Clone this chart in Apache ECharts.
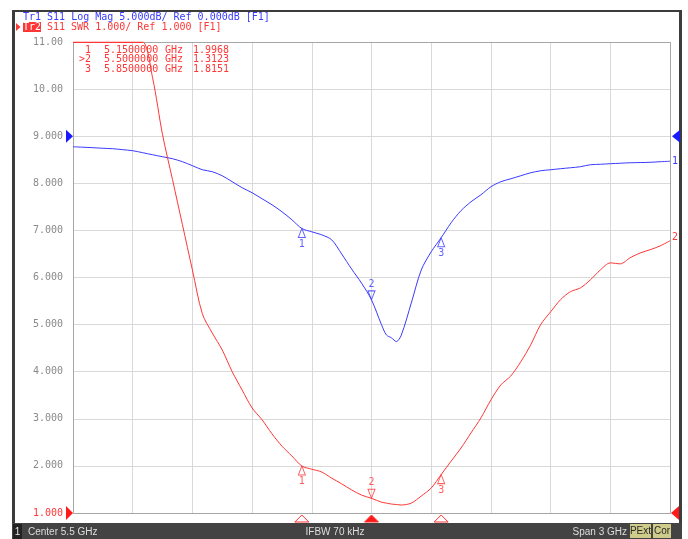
<!DOCTYPE html>
<html><head><meta charset="utf-8">
<script src="https://cdn.jsdelivr.net/npm/echarts@6/dist/echarts.min.js"></script>
<style>html,body{margin:0;padding:0;background:#fff}#c{width:688px;height:539px}</style>
</head><body><div id="c"></div>
<script>
// ---------------- data ----------------
const freqGHz = [4.00,4.05,4.10,4.15,4.20,4.25,4.30,4.35,4.40,4.45,4.50,4.55,4.60,4.65,4.70,4.75,4.80,4.85,4.90,4.95,
  5.00,5.05,5.10,5.15,5.20,5.25,5.30,5.35,5.40,5.45,5.50,5.55,5.575,5.60,5.625,5.65,5.70,5.75,5.80,5.85,5.90,5.95,
  6.00,6.05,6.10,6.15,6.20,6.25,6.30,6.35,6.40,6.45,6.50,6.55,6.60,6.65,6.70,6.75,6.80,6.85,6.90,6.95,7.00];
// Tr1: S11 Log Mag (dB)
const s11LogMagDb = [-1.12,-1.17,-1.22,-1.28,-1.33,-1.43,-1.54,-1.75,-1.97,-2.18,-2.39,-2.71,-3.13,-3.56,-3.77,-4.2,-4.83,-5.47,-6.0,-6.64,
  -7.28,-8.02,-8.87,-9.8,-10.15,-10.47,-11.0,-12.5,-14.1,-15.6,-17.37,-20.0,-21.1,-21.4,-21.8,-21.1,-17.7,-14.2,-12.27,-10.78,-9.19,-7.9,
  -6.96,-6.22,-5.37,-4.83,-4.52,-4.2,-3.88,-3.67,-3.56,-3.45,-3.35,-3.24,-3.03,-2.98,-2.92,-2.87,-2.82,-2.8,-2.77,-2.71,-2.66];
// Tr2: S11 SWR (values above the top are shown clipped at 11)
const s11Swr = [11,11,11,11,11,11,11,11,10.24,9.03,8.08,7.12,6.16,5.23,4.82,4.46,4.0,3.61,3.23,2.98,
  2.68,2.42,2.21,1.9968,1.93,1.87,1.74,1.62,1.49,1.38,1.3123,1.23,1.21,1.19,1.18,1.17,1.21,1.36,1.53,1.8151,2.10,2.38,
  2.70,3.02,3.40,3.72,3.91,4.21,4.57,5.0,5.27,5.53,5.70,5.78,5.95,6.16,6.31,6.29,6.42,6.52,6.59,6.67,6.78];
const markerIds = ['1','2','3'];
const markerFreqGHz = [5.15, 5.5, 5.85];
const markerFreqText = ['5.1500000', '5.5000000', '5.8500000'];
const markerSwr = [1.9968, 1.3123, 1.8151];
const markerLogMagDb = [-9.8, -17.37, -10.78];
const activeMarker = 1;
const swrTickLabels = ['1.000','2.000','3.000','4.000','5.000','6.000','7.000','8.000','9.000','10.00','11.00'];
const headerTr1 = 'Tr1 S11 Log Mag 5.000dB/ Ref 0.000dB [F1]';
const headerTr2 = 'S11 SWR 1.000/ Ref 1.000 [F1]';
const statusLeft = 'Center 5.5 GHz', statusMid = 'IFBW 70 kHz', statusRight = 'Span 3 GHz';

// ---------------- style ----------------
const mono = '"DejaVu Sans Mono", monospace';
const sans = '"Liberation Sans", "DejaVu Sans", sans-serif';
const BLUE = '#3a3aff', RED = '#ff3636';
const GRID = {left:73, top:42, width:597, height:471};

const chart = echarts.init(document.getElementById('c'), null, {renderer:'canvas'});

function markerItems(vals, color) {
  return markerFreqGHz.map((f, i) => {
    const down = i === activeMarker;
    return {
      value: [f, vals[i]],
      symbol: down ? 'path://M0,0L10,0L5,10Z' : 'path://M5,0L10,10L0,10Z',
      symbolOffset: [0, down ? '-50%' : '50%'],
      label: {show:true, position: down ? 'top' : 'bottom', distance: 1,
        formatter: markerIds[i], color: color, fontFamily: mono, fontSize: 10}
    };
  });
}

chart.setOption({
  animation: false,
  backgroundColor: '#ffffff',
  grid: {left:GRID.left, top:GRID.top, width:GRID.width, height:GRID.height, containLabel:false},
  xAxis: [
    {type:'value', min:4, max:7, show:false},
    {type:'value', min:0, max:10, interval:1, position:'bottom',
      axisLine:{show:false}, axisTick:{show:false}, axisLabel:{show:false},
      splitLine:{show:true, lineStyle:{color:'#d9d9d9', width:1}}}
  ],
  yAxis: [
    {type:'value', min:1, max:11, interval:1,
      axisLine:{show:false}, axisTick:{show:false},
      splitLine:{show:true, lineStyle:{color:'#d9d9d9', width:1}},
      axisLabel:{margin:10, fontFamily:mono, fontSize:10, color:'#8a8a8a',
        formatter:(v) => { const s = swrTickLabels[Math.round(v) - 1]; return Math.round(v) === 1 ? '{r|' + s + '}' : s; },
        rich:{r:{color:RED, fontFamily:mono, fontSize:10}}}},
    {type:'value', min:-40, max:10, interval:5, show:false}
  ],
  series: [
    {type:'line', name:'Tr1', xAxisIndex:0, yAxisIndex:1, symbol:'none', clip:false, smooth:0.3,
      data: freqGHz.map((f, i) => [f, s11LogMagDb[i]]),
      lineStyle:{color:BLUE, width:1},
      endLabel:{show:true, formatter:'1', color:BLUE, fontFamily:mono, fontSize:10, distance:2}},
    {type:'line', name:'Tr2', xAxisIndex:0, yAxisIndex:0, symbol:'none', clip:true, smooth:0.3,
      data: freqGHz.map((f, i) => [f, s11Swr[i]]),
      lineStyle:{color:RED, width:1},
      endLabel:{show:true, formatter:'2', color:RED, fontFamily:mono, fontSize:10, distance:2, offset:[0,-3]}},
    {type:'scatter', xAxisIndex:0, yAxisIndex:1, symbolSize:[7,9], z:5,
      itemStyle:{color:'rgba(255,255,255,0)', borderColor:BLUE, borderWidth:1},
      data: markerItems(markerLogMagDb, BLUE)},
    {type:'scatter', xAxisIndex:0, yAxisIndex:0, symbolSize:[7,9], z:5,
      itemStyle:{color:'rgba(255,255,255,0)', borderColor:RED, borderWidth:1},
      data: markerItems(markerSwr, RED)}
  ]
});

// ---------------- frame, annotations ----------------
const yRefBlue = chart.convertToPixel({yAxisIndex:1}, 0);
const yRefRed = chart.convertToPixel({yAxisIndex:0}, 1);
const L = GRID.left, R = GRID.left + GRID.width, T = GRID.top, B = GRID.top + GRID.height;
const g = [];
// outer dark frame
g.push({type:'rect', shape:{x:12, y:10, width:670, height:2}, style:{fill:'#3c3c3c'}, silent:true});
g.push({type:'rect', shape:{x:12, y:10, width:3, height:529}, style:{fill:'#3c3c3c'}, silent:true});
g.push({type:'rect', shape:{x:679, y:10, width:3, height:529}, style:{fill:'#3c3c3c'}, silent:true});
// plot border
g.push({type:'rect', shape:{x:L + 0.5, y:T + 0.5, width:GRID.width, height:GRID.height},
  style:{fill:null, stroke:'#a6a6a6', lineWidth:1}, z:1, silent:true});
// clipped segment of Tr2 along the top edge
g.push({type:'line', z:3, shape:{x1:L, y1:T + 0.5,
  x2:chart.convertToPixel({xAxisIndex:0}, freqGHz[s11Swr.lastIndexOf(11)]), y2:T + 0.5},
  style:{stroke:RED, lineWidth:1.2}});
// header
g.push({type:'text', x:23, y:17, style:{text:headerTr1, fill:BLUE, font:'10px ' + mono, textVerticalAlign:'middle'}});
g.push({type:'polygon', shape:{points:[[16,23],[20.5,27],[16,31]]}, style:{fill:RED}});
g.push({type:'rect', shape:{x:23, y:22, width:18, height:10}, style:{fill:RED}});
g.push({type:'text', x:32, y:27.5, style:{text:'Tr2', fill:'#ffffff', font:'10px ' + mono, textAlign:'center', textVerticalAlign:'middle'}});
g.push({type:'text', x:47, y:27, style:{text:headerTr2, fill:RED, font:'10px ' + mono, textVerticalAlign:'middle'}});
// marker table
markerIds.forEach((id, i) => {
  const y = 50 + i * 9.7;
  g.push({type:'text', x:91, y:y, z:10, style:{text:(i === activeMarker ? '>' : '') + id, fill:RED, font:'10px ' + mono, textAlign:'right', textVerticalAlign:'middle'}});
  g.push({type:'text', x:104, y:y, z:10, style:{text:markerFreqText[i], fill:RED, font:'10px ' + mono, textVerticalAlign:'middle'}});
  g.push({type:'text', x:165, y:y, z:10, style:{text:'GHz', fill:RED, font:'10px ' + mono, textVerticalAlign:'middle'}});
  g.push({type:'text', x:193, y:y, z:10, style:{text:markerSwr[i].toFixed(4), fill:RED, font:'10px ' + mono, textVerticalAlign:'middle'}});
});
// reference position triangles
g.push({type:'polygon', shape:{points:[[66,yRefBlue-6.5],[73,yRefBlue],[66,yRefBlue+6.5]]}, style:{fill:'#1a1aff'}});
g.push({type:'polygon', shape:{points:[[680,yRefBlue-6.5],[672,yRefBlue],[680,yRefBlue+6.5]]}, style:{fill:'#1a1aff'}});
g.push({type:'polygon', shape:{points:[[66,yRefRed-7],[73,yRefRed],[66,yRefRed+7]]}, style:{fill:'#ff1a1a'}});
g.push({type:'polygon', shape:{points:[[679,yRefRed-7],[671,yRefRed],[679,yRefRed+7]]}, style:{fill:'#ff1a1a'}});
// marker indicators below plot
markerFreqGHz.forEach((f, i) => {
  const x = chart.convertToPixel({xAxisIndex:0}, f);
  const act = i === activeMarker;
  g.push({type:'polygon', shape:{points:[[x-7,522],[x,515],[x+7,522]]},
    style:{fill: act ? '#ff1a1a' : '#ffffff', stroke:'#ff3030', lineWidth:1}});
});
// status bar
g.push({type:'rect', shape:{x:12, y:523, width:670, height:16}, style:{fill:'#434343'}});
g.push({type:'rect', shape:{x:13, y:524, width:9, height:15}, style:{fill:'#222222'}});
g.push({type:'text', x:17.5, y:532, style:{text:'1', fill:'#e8e8e8', font:'10px ' + sans, textAlign:'center', textVerticalAlign:'middle'}});
g.push({type:'text', x:28, y:532, style:{text:statusLeft, fill:'#dedede', font:'10px ' + sans, textVerticalAlign:'middle'}});
g.push({type:'text', x:335, y:532, style:{text:statusMid, fill:'#dedede', font:'10px ' + sans, textAlign:'center', textVerticalAlign:'middle'}});
g.push({type:'text', x:627, y:532, style:{text:statusRight, fill:'#dedede', font:'10px ' + sans, textAlign:'right', textVerticalAlign:'middle'}});
g.push({type:'rect', shape:{x:630, y:524, width:21, height:14}, style:{fill:'#cfcb8a'}});
g.push({type:'rect', shape:{x:653, y:524, width:18, height:14}, style:{fill:'#cfcb8a'}});
g.push({type:'text', x:640.5, y:531.5, style:{text:'PExt', fill:'#2a2a2a', font:'10px ' + sans, textAlign:'center', textVerticalAlign:'middle'}});
g.push({type:'text', x:662, y:531.5, style:{text:'Cor', fill:'#2a2a2a', font:'10px ' + sans, textAlign:'center', textVerticalAlign:'middle'}});

chart.setOption({graphic: g});
</script>
</body></html>
